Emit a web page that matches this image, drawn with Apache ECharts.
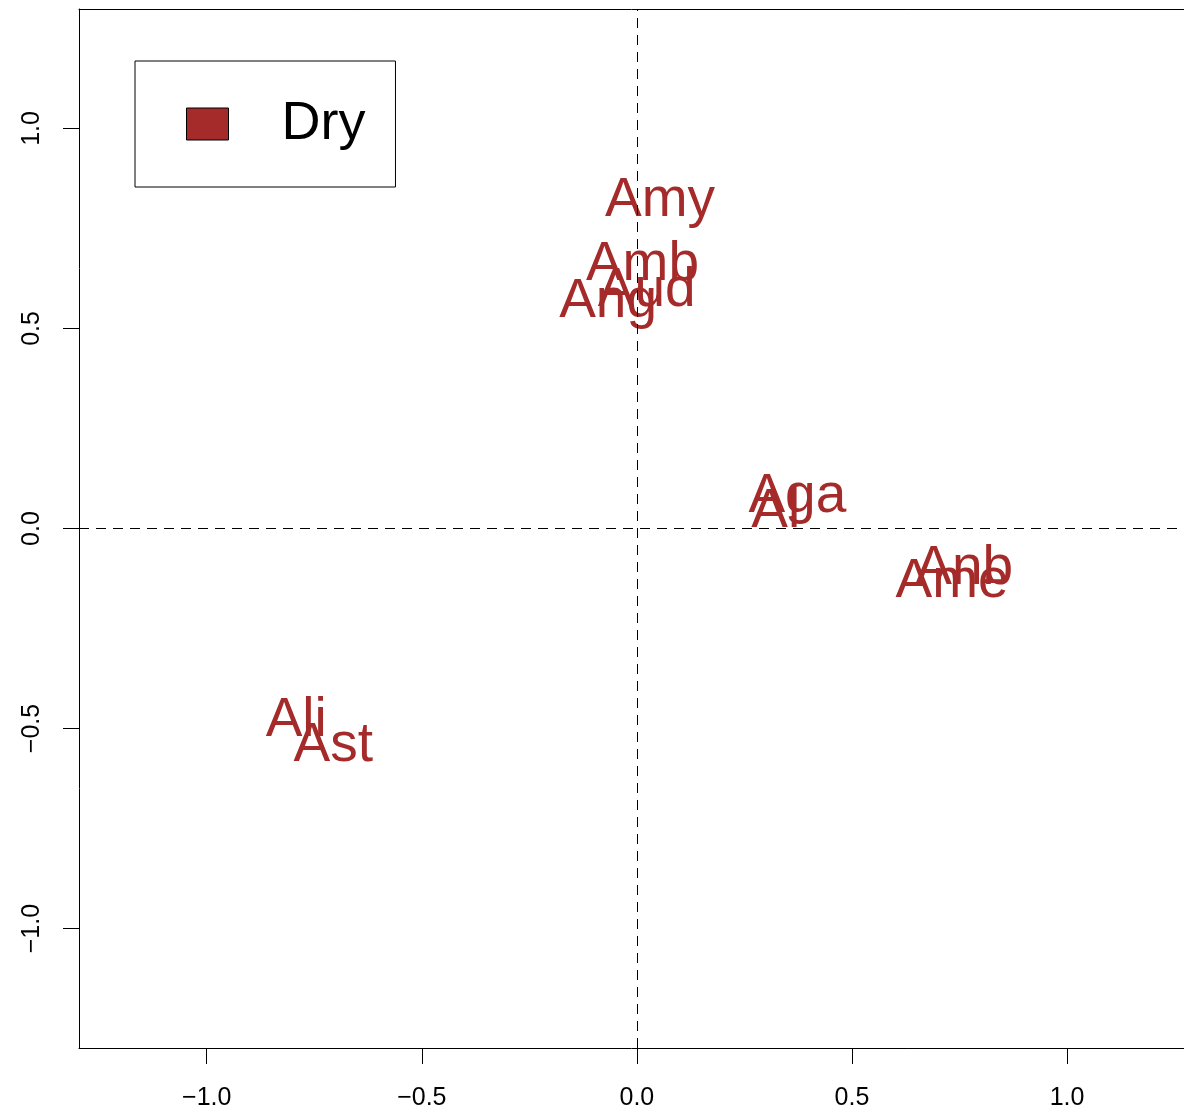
<!DOCTYPE html>
<html>
<head>
<meta charset="utf-8">
<script src="https://cdn.jsdelivr.net/npm/echarts@6/dist/echarts.min.js"></script>
<style>
  html, body { margin: 0; padding: 0; background: #fff; }
  #chart { width: 1184px; height: 1111px; }
</style>
</head>
<body>
<div id="chart"></div>
<script>
// Site labels and their ordination scores (axis 1, axis 2)
const siteNames = ['Amy', 'Amb', 'Aud', 'Ang', 'Aga', 'Al', 'Anb', 'Ame', 'Ali', 'Ast'];
const axis1 = [0.054, 0.013, 0.023, -0.067, 0.373, 0.323, 0.761, 0.733, -0.792, -0.706];
const axis2 = [0.825, 0.663, 0.598, 0.571, 0.085, 0.046, -0.097, -0.129, -0.475, -0.538];
const tickValues = [-1, -0.5, 0, 0.5, 1];
const groupName = 'Dry';

const brown = '#A52A2A';
const fontFamily = '"Liberation Sans", Arial, Helvetica, sans-serif';
const points = siteNames.map((n, i) => [axis1[i], axis2[i]]);

const fmt = v => (v < 0 ? '\u2212' : '') + Math.abs(v).toFixed(1);
const frameLine = { show: true, onZero: false, lineStyle: { color: '#000', width: 1 } };

const chart = echarts.init(document.getElementById('chart'), null, { renderer: 'canvas' });
chart.setOption({
  animation: false,
  backgroundColor: '#fff',
  // the plotting region runs past the right edge of the canvas
  grid: { left: 79, top: 9, right: 0, bottom: 63, show: false },
  xAxis: [{
    type: 'value', min: -1.297, max: 1.272, position: 'bottom',
    axisLine: frameLine,
    splitLine: { show: false },
    axisTick: { show: true, inside: false, length: 16, lineStyle: { color: '#000', width: 1 }, customValues: tickValues },
    axisLabel: { color: '#000', fontSize: 25, fontFamily: fontFamily, margin: 38, formatter: fmt, customValues: tickValues }
  }, {
    // top edge of the frame
    type: 'value', min: -1.297, max: 1.272, position: 'top',
    axisLine: frameLine,
    splitLine: { show: false },
    axisTick: { show: false },
    axisLabel: { show: false }
  }],
  yAxis: {
    type: 'value', min: -1.2985, max: 1.2985,
    axisLine: frameLine,
    splitLine: { show: false },
    axisTick: { show: true, inside: false, length: 16, lineStyle: { color: '#000', width: 1 }, customValues: tickValues },
    axisLabel: { color: '#000', fontSize: 25, fontFamily: fontFamily, margin: 34, rotate: 90, formatter: fmt, customValues: tickValues }
  },
  legend: {
    left: 135, top: 61,
    padding: [36, 30, 36, 51],
    borderColor: '#000', borderWidth: 1, borderRadius: 0,
    backgroundColor: '#fff',
    itemWidth: 42, itemHeight: 32,
    icon: 'rect',
    itemStyle: { borderColor: '#000', borderWidth: 1 },
    textStyle: { fontSize: 54, color: '#000', fontFamily: fontFamily, padding: [9, 0, 0, 48] },
    data: [groupName]
  },
  series: [{
    name: groupName,
    type: 'custom',
    color: brown,
    itemStyle: { color: brown },
    data: points,
    encode: { x: 0, y: 1 },
    renderItem: function (params, api) {
      const p = api.coord([api.value(0), api.value(1)]);
      return {
        type: 'text',
        x: p[0], y: p[1] + 2,
        style: {
          text: siteNames[params.dataIndex],
          fill: brown,
          font: '55px ' + fontFamily,
          align: 'center',
          verticalAlign: 'middle'
        }
      };
    },
    markLine: {
      silent: true,
      symbol: 'none',
      label: { show: false },
      lineStyle: { color: '#000', type: [10, 7], width: 1 },
      data: [{ xAxis: 0 }, { yAxis: 0 }]
    }
  }]
});
</script>
</body>
</html>
